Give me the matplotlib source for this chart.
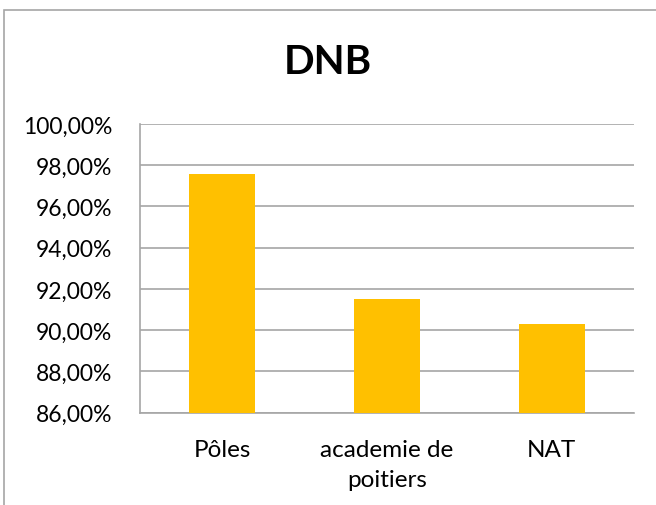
import numpy as np
import matplotlib.pyplot as plt
from matplotlib.patches import Rectangle
from matplotlib.ticker import FuncFormatter

# donnees
categories = ['Pôles', 'academie de\npoitiers', 'NAT']
taux = [97.58, 91.5, 90.28]
yticks = [86, 88, 90, 92, 94, 96, 98, 100]

plt.rcParams['font.family'] = ['Lato', 'DejaVu Sans']

fig = plt.figure(figsize=(6.56, 5.06), dpi=100)
ax = fig.add_axes([0.2134, 0.1824, 0.7531, 0.5706])

x = np.arange(len(categories))
ax.bar(x, taux, width=0.4, color='#FFC000', zorder=3)

ax.set_xlim(-0.5, len(categories) - 0.5)
ax.set_ylim(86, 100)
ax.set_yticks(yticks)
ax.yaxis.set_major_formatter(FuncFormatter(lambda v, p: f"{v:.2f}%".replace('.', ',')))
ax.set_xticks(x)
ax.set_xticklabels(categories, fontsize=17.5, linespacing=1.55)
ax.tick_params(axis='y', labelsize=16.5, length=0, pad=20)
ax.tick_params(axis='x', length=0, pad=19)

ax.grid(axis='y', color='#a6a6a6', linewidth=1.2, zorder=0)
for s in ['top', 'right']:
    ax.spines[s].set_visible(False)
ax.spines['left'].set_color('#a6a6a6')
ax.spines['bottom'].set_color('#a6a6a6')
ax.spines['left'].set_linewidth(1.2)
ax.spines['bottom'].set_linewidth(1.2)

fig.text(0.5, 0.876, 'DNB', ha='center', va='center', fontsize=29, fontweight='bold')

# cadre du graphique
fig.patches.append(Rectangle((4 / 656, -0.1), 1.1, 1 - 11 / 506 + 0.1,
                             transform=fig.transFigure, fill=False,
                             edgecolor='#a6a6a6', linewidth=1.2))

fig.savefig('out.png', dpi=100)
